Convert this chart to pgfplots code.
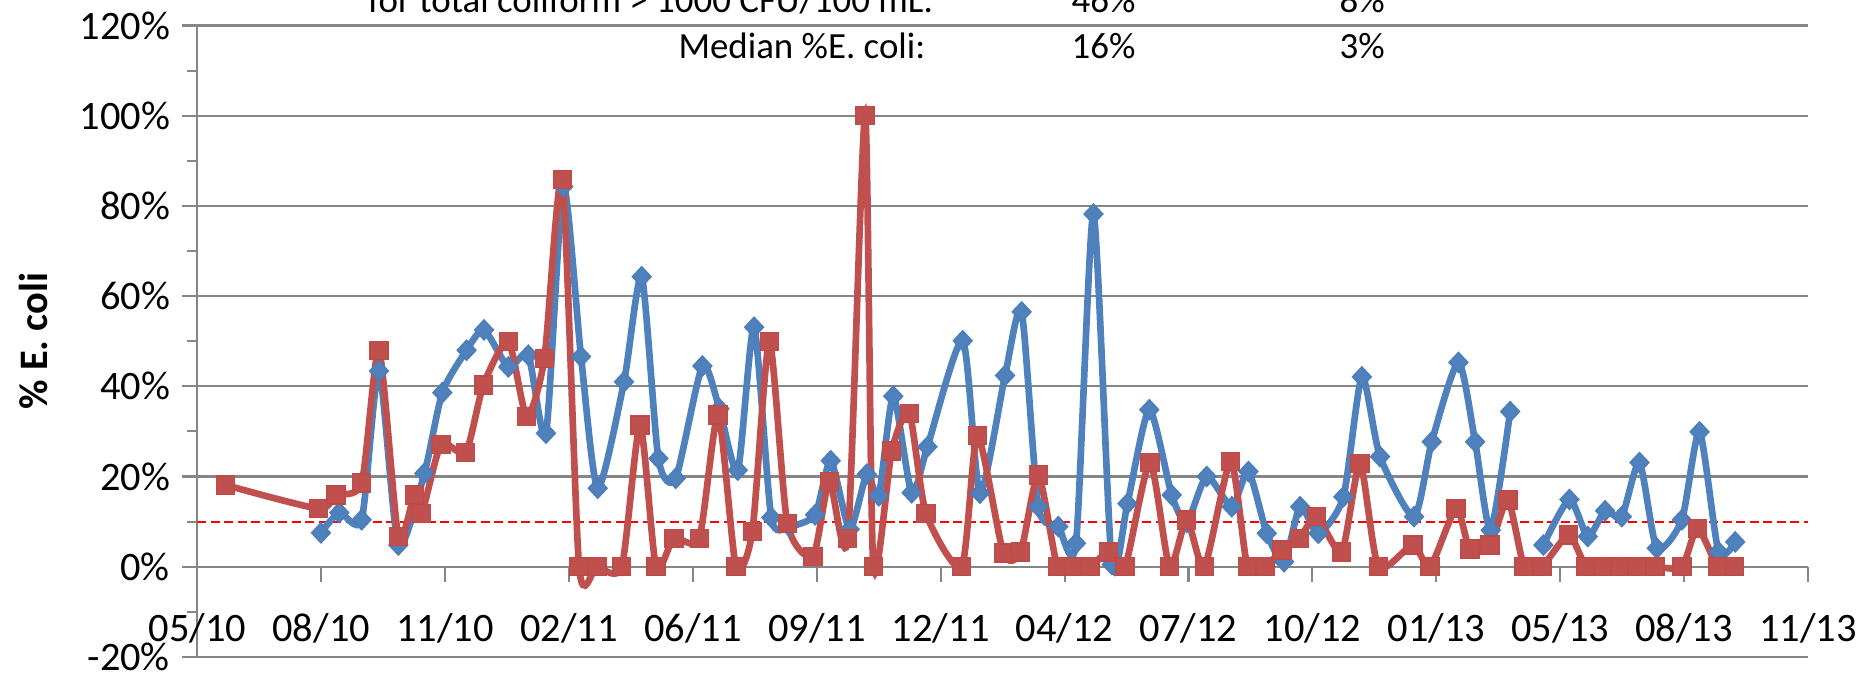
\documentclass[border=0pt]{standalone}
\usepackage{fontspec}
\setmainfont{Carlito}
\usepackage{pgfplots}
\pgfplotsset{compat=1.18}
\definecolor{ser1}{HTML}{4F81BD}
\definecolor{ser1l}{HTML}{4A7EBB}
\definecolor{ser2}{HTML}{C0504D}
\definecolor{ser2l}{HTML}{BE4B48}
\definecolor{gridgray}{RGB}{134,134,134}
\begin{document}
\begin{tikzpicture}
\begin{axis}[
  scale only axis, width=16.107cm, height=6.314cm,
  xmin=0, xmax=1274, ymin=-20, ymax=120,
  axis y line=left, axis x line=middle,
  axis line style={gridgray, line width=0.6pt, -},
  x axis line style={-}, y axis line style={-},
  hide obscured x ticks=false, hide obscured y ticks=false,
  xtick={0,98,196,294,392,490,588,686,784,882,980,1078,1176,1274},
  xticklabels={05/10,08/10,11/10,02/11,06/11,09/11,12/11,04/12,07/12,10/12,01/13,05/13,08/13,11/13},
  ytick={-20,0,20,40,60,80,100,120},
  yticklabels={-20\%,0\%,20\%,40\%,60\%,80\%,100\%,120\%},
  minor y tick num=1,
  tick align=outside,
  major tick length=0.15cm, minor tick length=0.1cm,
  tick style={gridgray, line width=0.6pt},
  ymajorgrids, grid style={gridgray, line width=0.6pt},
  ticklabel style={font=\fontsize{11.5}{13}\selectfont},
  xticklabel style={yshift=-0.19cm},
  ylabel={\textbf{\% E. coli}},
  ylabel style={at={(axis description cs:-0.102,0.5)}, anchor=center, rotate=0, font=\fontsize{11.5}{13}\selectfont},
]
\addplot[red, line width=0.6pt, dash pattern=on 0.09cm off 0.045cm, forget plot] coordinates {(0,10) (1274,10)};
\addplot[ser1, line width=1.9pt, smooth, tension=0.4, mark=diamond*, mark size=0.1cm,
  mark options={fill=ser1, draw=ser1l, line width=0.4pt, solid, xscale=1.25}] coordinates {
(97.8,7.5) (112.3,12.0) (130,10.4) (143.7,43.4) (159,4.8) (179.6,20.7) (193.8,38.6) (213,48.0)
(226.8,52.5) (246,44.3) (261.8,46.9) (275.8,29.6) (289.5,84.3) (303.5,46.6) (316.7,17.4)
(337.5,41.0) (351.5,64.3) (364.7,24.0) (378.4,19.6) (399.5,44.5) (413,35) (427.5,21.4)
(440.4,53.1) (454,10.9) (468,9.0) (488.6,11.5) (501,23.5) (516,8.3) (529.5,20.5) (539,15.7)
(550.5,37.8) (565,16.4) (577.5,26.6) (605.4,50.1) (619,16.3) (638.9,42.4) (652,56.5)
(665.2,13.3) (681,8.9) (695,5.2) (708.8,78.2) (723.3,0.5) (735.7,14.0) (753,34.8)
(770.7,15.9) (782.6,9.8) (798.4,20.0) (818.2,13.3) (831.4,21.1) (845.9,7.4) (859.6,1.1)
(872.3,13.3) (886.7,7.4) (906.5,15.5) (921.1,42.1) (935.5,24.4) (962.4,11.1) (976.4,27.7)
(997.5,45.3) (1010.7,27.7) (1023,8.1) (1038.4,34.4)
};
\addplot[ser1, line width=1.9pt, smooth, tension=0.4, mark=diamond*, mark size=0.1cm,
  mark options={fill=ser1, draw=ser1l, line width=0.4pt, solid, xscale=1.25}, forget plot] coordinates {
(1064.7,4.8) (1085.3,14.9) (1099.8,6.7) (1113.5,12.4) (1126.7,11.1) (1140.7,23.1) (1154.4,4.1)
(1174.2,10.4) (1188.2,29.9) (1203.2,3.3) (1216.4,5.5)
};
\addplot[ser2, line width=1.9pt, smooth, tension=0.4, mark=square*, mark size=0.09cm,
  mark options={fill=ser2, draw=ser2l, line width=0.4pt, solid}] coordinates {
(22.5,18.1) (95.7,12.9) (109.7,15.9) (130,18.6) (143.7,48.0) (159,6.7) (171.7,15.9) (177.5,11.8)
(192.8,27.1) (212.3,25.3) (226.3,40.3) (246,49.9) (260.5,33.3) (274.5,46.2) (288.7,85.9)
(302,0) (316,0) (335.7,0) (350.2,31.4) (362.8,0) (377,6.3) (397,6.3) (412,33.6) (426,0)
(439,7.8) (452.5,49.9) (466.7,9.6) (487,2.3) (499.9,18.9) (514.5,6.3) (528.2,100) (534.7,0)
(549.3,25.7) (563.2,34.0) (576.4,11.8) (604.6,0) (617,29.1) (637.6,3.0) (651.3,3.3)
(665.2,20.3) (680.3,0) (693,0) (706.1,0) (720.6,3.3) (733.8,0) (753.5,23.1) (768.9,0)
(782.6,10.4) (796.6,0) (817.4,23.3) (830.6,0) (844.6,0) (857.8,3.7) (871.7,6.3) (885.4,11.1)
(905.2,3.3) (919.7,22.9) (934.2,0) (961.4,4.8) (975.1,0) (995.6,12.9) (1006.5,3.9)
(1022.6,4.8) (1036.6,14.8) (1049.5,0) (1063.5,0) (1084.6,7.0) (1098.5,0) (1112.2,0)
(1125.4,0) (1138.6,0) (1153,0) (1174.2,0) (1186.6,8.5) (1202.6,0) (1215.8,0)
};
\end{axis}
\begin{scope}[every node/.style={inner sep=0pt, font=\fontsize{10.5}{12}\selectfont}]
\node[anchor=base east] at (7.367,6.439) {for total coliform > 1000 CFU/100 mL:};
\node[anchor=base west] at (8.737,6.439) {46\%};
\node[anchor=base west] at (11.417,6.439) {8\%};
\node[anchor=base east] at (7.287,5.989) {Median \%E. coli:};
\node[anchor=base west] at (8.737,5.989) {16\%};
\node[anchor=base west] at (11.417,5.989) {3\%};
\end{scope}
\pgfresetboundingbox
\useasboundingbox (-1.973,-0.181) rectangle (16.687,6.569);
\end{tikzpicture}
\end{document}
